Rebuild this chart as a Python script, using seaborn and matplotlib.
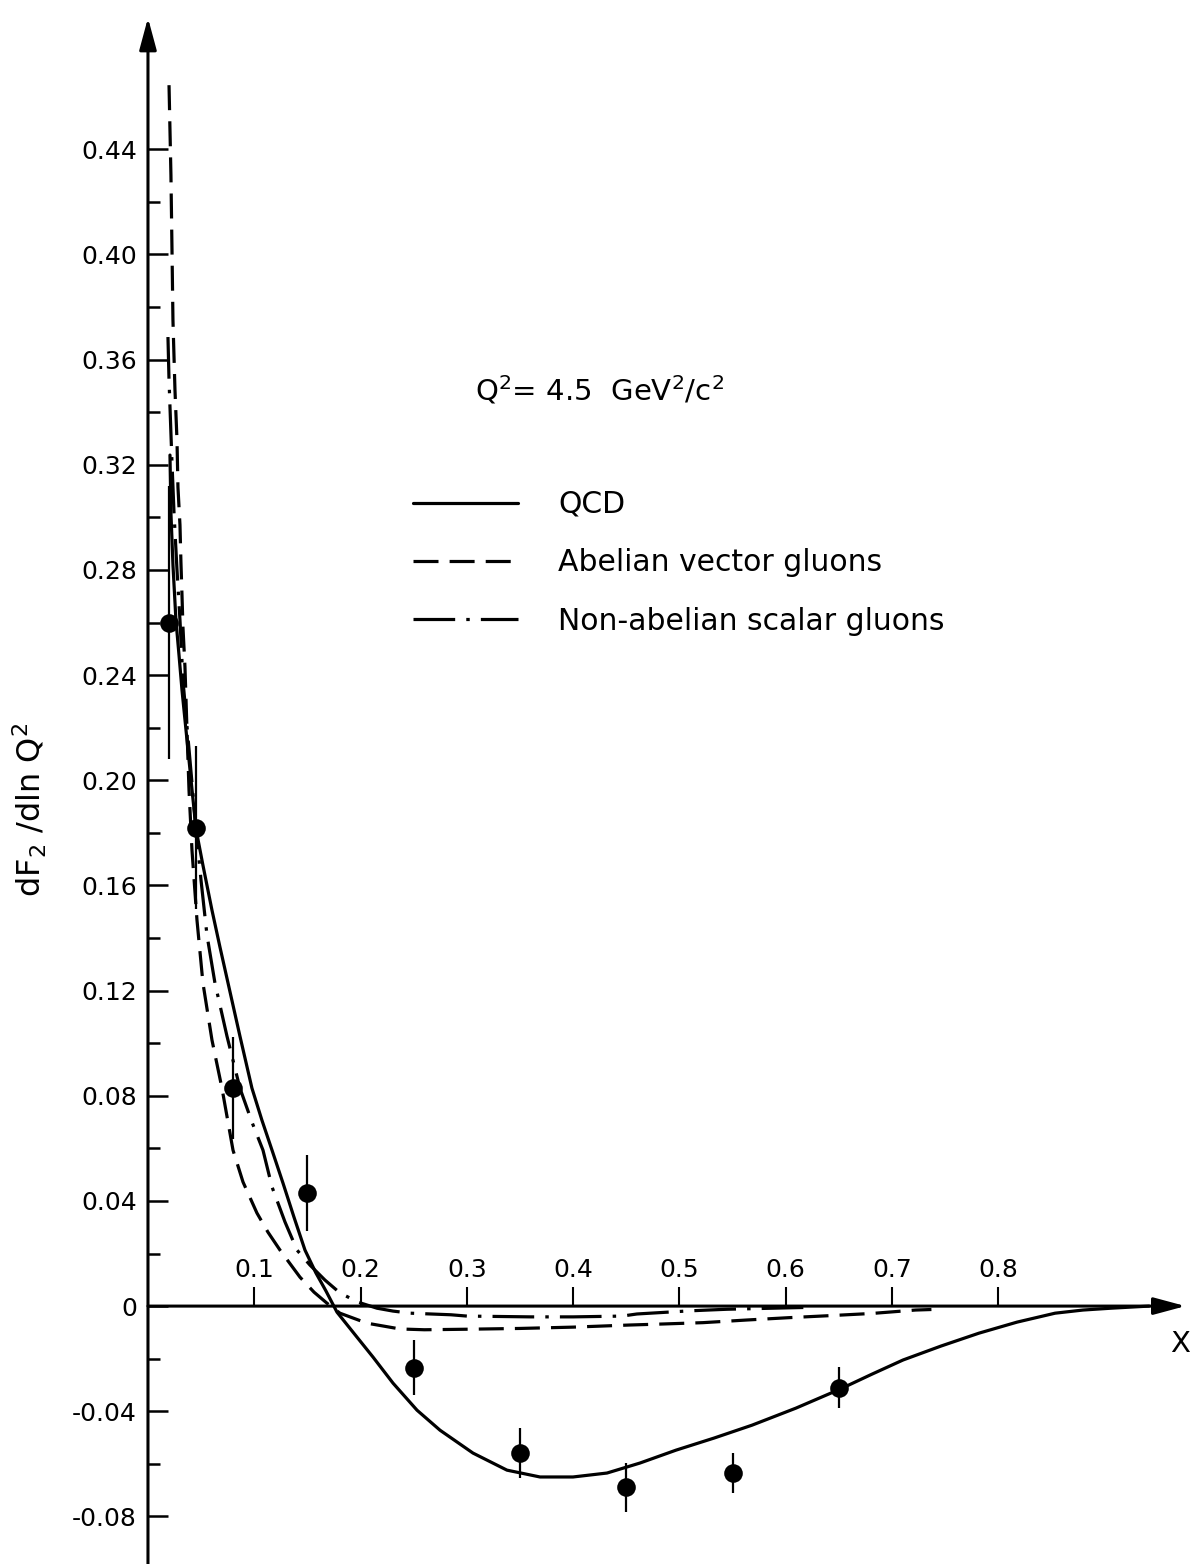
import matplotlib
matplotlib.use('Agg')
import matplotlib.pyplot as plt
import numpy as np
import pandas as pd
import seaborn as sns

# measured points with errors
x_data = [0.02, 0.045, 0.08, 0.15, 0.25, 0.35, 0.45, 0.55, 0.65]
y_data = [0.26, 0.182, 0.083, 0.043, -0.0235, -0.056, -0.069, -0.0635, -0.031]
err_data = [0.052, 0.031, 0.0195, 0.0145, 0.0105, 0.0095, 0.0095, 0.0075, 0.0078]

# QCD curve
x_qcd = [0.0207, 0.0216, 0.0235, 0.0263, 0.0292, 0.032, 0.0386, 0.0452, 0.0517, 0.0602,
         0.0677, 0.0753, 0.0865, 0.0978, 0.1072, 0.1167, 0.127, 0.1373, 0.1477, 0.158,
         0.1675, 0.1778, 0.1966, 0.2117, 0.2305, 0.2531, 0.2747, 0.3057, 0.3377, 0.3688,
         0.3998, 0.4318, 0.4628, 0.4967, 0.5325, 0.5682, 0.6096, 0.651, 0.681, 0.7103,
         0.746, 0.7817, 0.8175, 0.8533, 0.8796, 0.906, 0.9417]
y_qcd = [0.3237, 0.3016, 0.2819, 0.2609, 0.2476, 0.2343, 0.2077, 0.1814, 0.1677, 0.1506,
         0.1366, 0.1229, 0.1027, 0.0829, 0.0707, 0.0593, 0.0468, 0.0339, 0.0213, 0.0126,
         0.0057, -0.0023, -0.0118, -0.0194, -0.0293, -0.0396, -0.0472, -0.0559, -0.0624, -0.065,
         -0.065, -0.0635, -0.0597, -0.0548, -0.0502, -0.0453, -0.0388, -0.0316, -0.0259, -0.0205,
         -0.0152, -0.0103, -0.0061, -0.0027, -0.0015, -0.0008, 0.0]

# Abelian vector gluons
x_abel = [0.0198, 0.0216, 0.0226, 0.0235, 0.0254, 0.0273, 0.0282, 0.0301, 0.031, 0.032,
          0.0329, 0.0348, 0.0367, 0.0386, 0.0414, 0.0461, 0.0517, 0.0602, 0.0696, 0.08,
          0.0894, 0.1025, 0.1129, 0.1242, 0.143, 0.1562, 0.1684, 0.1806, 0.206, 0.2371,
          0.26, 0.30, 0.35, 0.40, 0.453, 0.485, 0.522, 0.563, 0.603, 0.643,
          0.681, 0.722, 0.737]
y_abel = [0.4644, 0.4302, 0.4017, 0.375, 0.3484, 0.3294, 0.3115, 0.2971, 0.283, 0.2704,
          0.2583, 0.2431, 0.2191, 0.1963, 0.1734, 0.1468, 0.1229, 0.1012, 0.0829, 0.0593,
          0.0472, 0.0354, 0.0281, 0.0213, 0.011, 0.0053, 0.0011, -0.0027, -0.0065, -0.0087,
          -0.0090, -0.0088, -0.0085, -0.0080, -0.0072, -0.0068, -0.0063, -0.0053, -0.0044, -0.0036,
          -0.0028, -0.0015, -0.0013]

# Non-abelian scalar gluons
x_scal = [0.0188, 0.0198, 0.0226, 0.0245, 0.0273, 0.0301, 0.0329, 0.0395, 0.0452, 0.0499,
          0.0555, 0.063, 0.0743, 0.0865, 0.0978, 0.1082, 0.1167, 0.1289, 0.1402, 0.1524,
          0.1665, 0.1806, 0.1976, 0.2154, 0.2305, 0.247, 0.285, 0.30, 0.36, 0.40,
          0.446, 0.46, 0.51, 0.527, 0.545, 0.588, 0.62]
y_scal = [0.3686, 0.3522, 0.3207, 0.3016, 0.28, 0.261, 0.2381, 0.2077, 0.1814, 0.162,
          0.1411, 0.1229, 0.1027, 0.0829, 0.07, 0.0593, 0.0453, 0.032, 0.0213, 0.0156,
          0.0099, 0.005, 0.0015, -0.0008, -0.0019, -0.0027, -0.0033, -0.0038, -0.0041, -0.0041,
          -0.0038, -0.0030, -0.0018, -0.0015, -0.0012, -0.0008, -0.0005]

xticks = [0.1, 0.2, 0.3, 0.4, 0.5, 0.6, 0.7, 0.8]
xtick_labels = ['0.1', '0.2', '0.3', '0.4', '0.5', '0.6', '0.7', '0.8']
yticks = [-0.08, -0.04, 0, 0.04, 0.08, 0.12, 0.16, 0.20, 0.24, 0.28, 0.32, 0.36, 0.40, 0.44]
ytick_labels = ['-0.08', '-0.04', '0', '0.04', '0.08', '0.12', '0.16', '0.20', '0.24',
                '0.28', '0.32', '0.36', '0.40', '0.44']
yminor = [-0.06, -0.02, 0.02, 0.06, 0.10, 0.14, 0.18, 0.22, 0.26, 0.30, 0.34, 0.38, 0.42]

sns.set_style('white')
plt.rcParams['font.family'] = ['DejaVu Sans']
plt.rcParams['mathtext.default'] = 'regular'
plt.rcParams['lines.scale_dashes'] = False
plt.rcParams['text.color'] = 'black'
plt.rcParams['xtick.color'] = 'black'
plt.rcParams['ytick.color'] = 'black'

fig = plt.figure(figsize=(11.94, 15.64), dpi=100)
ax = fig.add_axes([0, 0, 1, 1])
ax.set_xlim(-0.1392, 0.984)
ax.set_ylim(-0.0981, 0.4968)

# curves
sns.lineplot(x=x_qcd, y=y_qcd, ax=ax, color='black', linewidth=2.3,
             sort=False, estimator=None, label='QCD')
sns.lineplot(x=x_abel, y=y_abel, ax=ax, color='black', linewidth=2.3,
             sort=False, estimator=None, linestyle=(0, (18, 8)),
             label='Abelian vector gluons')
sns.lineplot(x=x_scal, y=y_scal, ax=ax, color='black', linewidth=2.3,
             sort=False, estimator=None, linestyle=(0, (30, 8, 2.5, 8)),
             label='Non-abelian scalar gluons')

# data points
ax.errorbar(x_data, y_data, yerr=err_data, fmt='none', ecolor='black',
            elinewidth=1.6, capsize=0, zorder=4)
sns.scatterplot(x=x_data, y=y_data, ax=ax, color='black', s=180,
                linewidth=0, zorder=5)

# axes through the origin
for side in ['left', 'right', 'top', 'bottom']:
    ax.spines[side].set_visible(False)
ax.spines['left'].set_position(('data', 0))
ax.spines['top'].set_position(('data', 0))
ax.xaxis.set_ticks_position('top')
ax.yaxis.set_ticks_position('left')

arrow = dict(arrowstyle='-|>,head_length=1.3,head_width=0.35', mutation_scale=15,
             lw=2.2, color='black', shrinkA=0, shrinkB=0)
ax.annotate('', xy=(0, 0.49), xytext=(0, -0.0981), arrowprops=arrow)
ax.annotate('', xy=(0.976, 0), xytext=(0, 0), arrowprops=arrow)

ax.set_xticks(xticks)
ax.set_xticklabels(xtick_labels)
ax.set_yticks(yticks)
ax.set_yticklabels(ytick_labels)
ax.set_yticks(yminor, minor=True)
ax.tick_params(axis='x', which='major', top=True, direction='out', length=14,
               width=1.5, labelsize=18, pad=3)
ax.tick_params(axis='y', which='major', left=True, direction='in', length=14.5,
               width=1.8, labelsize=18, pad=8)
ax.tick_params(axis='y', which='minor', left=True, direction='in', length=8.5,
               width=1.8)

# texts
ax.text(0.3076, 0.3484, r'Q$^2$= 4.5  GeV$^2$/c$^2$', fontsize=21, ha='left', va='center')
ax.text(0.971, -0.0145, 'X', fontsize=21, ha='center', va='center')
ax.text(-0.111, 0.1887, r'dF$_2$ /dln Q$^2$', rotation=90, fontsize=23,
        ha='center', va='center')

ax.legend(loc='upper left', bbox_to_anchor=(413 / 1194, 1 - 490 / 1564), frameon=False,
          fontsize=21.5, handlelength=3.52, handletextpad=1.34, labelspacing=0.98,
          borderpad=0, borderaxespad=0)

fig.savefig('out.png', dpi=100)
